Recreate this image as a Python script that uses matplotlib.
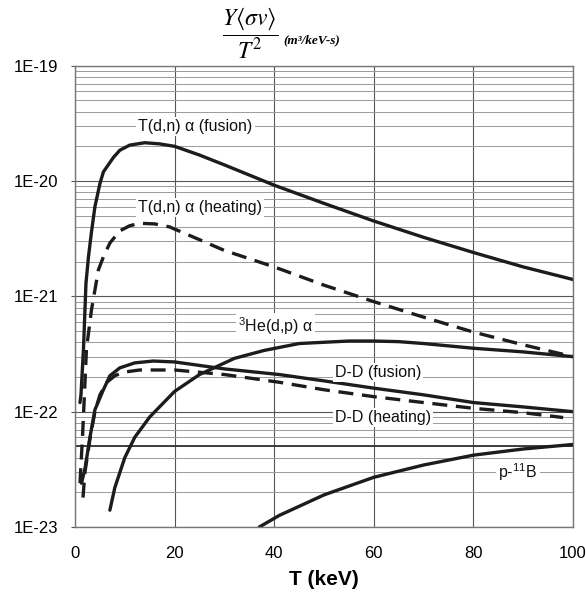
import matplotlib
matplotlib.use("Agg")
import matplotlib.pyplot as plt
from matplotlib.ticker import FixedLocator, NullFormatter

plt.rcParams['font.family'] = ['Liberation Sans', 'DejaVu Sans']
plt.rcParams['mathtext.fontset'] = 'custom'
plt.rcParams['mathtext.rm'] = 'Liberation Sans'
plt.rcParams['mathtext.it'] = 'Liberation Sans:italic'

# --- data (T in keV, Y<sigma v>/T^2 in m^3/keV-s) ---
dt_fus_T = [1.0, 1.2, 1.7, 2.2, 2.7, 3.3, 4, 5, 5.7, 7.7, 9, 11, 14, 17, 20, 25, 30, 40, 50, 60, 70, 80, 90, 100]
dt_fus_v = [1.2e-22, 1.4e-22, 3.5e-22, 1.3e-21, 2.2e-21, 3.6e-21, 6e-21, 9.5e-21, 1.2e-20, 1.6e-20,
            1.85e-20, 2.05e-20, 2.15e-20, 2.1e-20, 2.0e-20, 1.68e-20, 1.38e-20, 9.2e-21, 6.4e-21,
            4.5e-21, 3.25e-21, 2.4e-21, 1.8e-21, 1.4e-21]

dt_heat_T = [1.0, 1.5, 2.0, 2.3, 3.3, 4.7, 5.7, 7, 9, 11, 13, 16, 19, 25, 30, 40, 50, 60, 70, 80, 90, 100]
dt_heat_v = [2.4e-23, 6e-23, 1.8e-22, 3.5e-22, 7.6e-22, 1.7e-21, 2.2e-21, 2.9e-21, 3.7e-21, 4.1e-21,
             4.3e-21, 4.25e-21, 4.0e-21, 3.1e-21, 2.5e-21, 1.8e-21, 1.25e-21, 9.0e-22, 6.6e-22,
             4.9e-22, 3.8e-22, 3.0e-22]

he3_T = [7, 8, 10, 12, 15, 20, 25, 32, 38, 45, 50, 55, 60, 65, 70, 80, 90, 100]
he3_v = [1.4e-23, 2.2e-23, 4.0e-23, 6.0e-23, 9e-23, 1.5e-22, 2.1e-22, 2.9e-22, 3.4e-22, 3.9e-22,
         4.0e-22, 4.1e-22, 4.1e-22, 4.05e-22, 3.9e-22, 3.55e-22, 3.3e-22, 3.0e-22]

dd_fus_T = [1.3, 2, 3, 4, 5.7, 7, 9, 12, 15.7, 20, 30, 41, 50, 60, 70, 80, 90, 100]
dd_fus_v = [2.4e-23, 3.2e-23, 6e-23, 1.04e-22, 1.55e-22, 2.05e-22, 2.4e-22, 2.65e-22, 2.75e-22, 2.7e-22,
            2.35e-22, 2.1e-22, 1.85e-22, 1.6e-22, 1.4e-22, 1.2e-22, 1.1e-22, 1.0e-22]

dd_heat_T = [1.6, 2, 3, 4, 5, 6.4, 8, 9.7, 13, 20, 30, 41, 50, 60, 70, 80, 90, 98]
dd_heat_v = [1.8e-23, 3e-23, 5.8e-23, 1.0e-22, 1.4e-22, 1.8e-22, 2.05e-22, 2.2e-22, 2.3e-22, 2.3e-22,
             2.1e-22, 1.8e-22, 1.55e-22, 1.35e-22, 1.2e-22, 1.07e-22, 9.8e-23, 8.9e-23]

pb_T = [37, 41, 50, 60, 70, 80, 90, 100]
pb_v = [1.0e-23, 1.26e-23, 1.9e-23, 2.7e-23, 3.45e-23, 4.2e-23, 4.75e-23, 5.2e-23]

y_ticks = [1e-23, 1e-22, 1e-21, 1e-20, 1e-19]
y_ticklabels = ["1E-23", "1E-22", "1E-21", "1E-20", "1E-19"]
x_ticks = [0, 20, 40, 60, 80, 100]

INK = "#1c1c1c"
LW = 2.4
DASH = (0, (4.5, 2.6))

fig = plt.figure(figsize=(5.86, 6.03), dpi=100)
ax = fig.add_axes([0.128, 0.126, 0.850, 0.765])
ax.set_yscale("log")
ax.set_xlim(0, 100)
ax.set_ylim(1e-23, 1e-19)

# grid
ax.yaxis.set_major_locator(FixedLocator(y_ticks))
ax.yaxis.set_minor_locator(FixedLocator([m * 10.0**e for e in range(-23, -19) for m in range(2, 10)]))
ax.yaxis.set_minor_formatter(NullFormatter())
ax.set_yticklabels(y_ticklabels)
ax.set_xticks(x_ticks)
ax.grid(which="major", axis="both", color="#555555", lw=0.8)
ax.grid(which="minor", axis="y", color="#9a9a9a", lw=0.7)
ax.axhline(5e-23, color="#333333", lw=1.3, zorder=1)
ax.set_axisbelow(True)

ax.plot(dt_fus_T, dt_fus_v, color=INK, lw=LW, solid_capstyle="round", solid_joinstyle="round")
ax.plot(dt_heat_T, dt_heat_v, color=INK, lw=LW, linestyle=DASH)
ax.plot(he3_T, he3_v, color=INK, lw=LW, solid_capstyle="round", solid_joinstyle="round")
ax.plot(dd_fus_T, dd_fus_v, color=INK, lw=LW, solid_capstyle="round", solid_joinstyle="round")
ax.plot(dd_heat_T, dd_heat_v, color=INK, lw=LW, linestyle=DASH)
ax.plot(pb_T, pb_v, color=INK, lw=LW, solid_capstyle="round", solid_joinstyle="round")

box = dict(facecolor="white", edgecolor="none", pad=1.5)
lab = dict(fontsize=11.5, ha="left", va="center", color="#111111", bbox=box, zorder=3)
ax.text(12.7, 2.95e-20, "T(d,n) α (fusion)", **lab)
ax.text(12.7, 5.9e-21, "T(d,n) α (heating)", **lab)
ax.text(32.7, 5.5e-22, "$^{3}$He(d,p) α", **lab)
ax.text(52.2, 2.2e-22, "D-D (fusion)", **lab)
ax.text(52.2, 8.9e-23, "D-D (heating)", **lab)
ax.text(85.0, 3.0e-23, "p-$^{11}$B", **lab)

for s in ax.spines.values():
    s.set_color("#777777")
    s.set_linewidth(1.0)
ax.tick_params(axis="y", which="major", length=3, pad=9, labelsize=12, color="#555555")
ax.tick_params(axis="y", which="minor", length=0)
ax.tick_params(axis="x", length=0, pad=14, labelsize=12)
ax.set_xlabel("T (keV)", fontsize=15, fontweight="bold", labelpad=6)

# title: Y<sigma v>/T^2 (m^3/keV-s)
fig.text(0.427, 0.944, r"$\dfrac{Y\langle\sigma v\rangle}{T^2}$", fontsize=17,
         ha="center", va="center", math_fontfamily="stix")
fig.text(0.483, 0.934, "(m³/keV-s)", fontsize=9.5, ha="left", va="center",
         family="Liberation Serif", style="italic", weight="bold")

fig.savefig("out.png", dpi=100)
